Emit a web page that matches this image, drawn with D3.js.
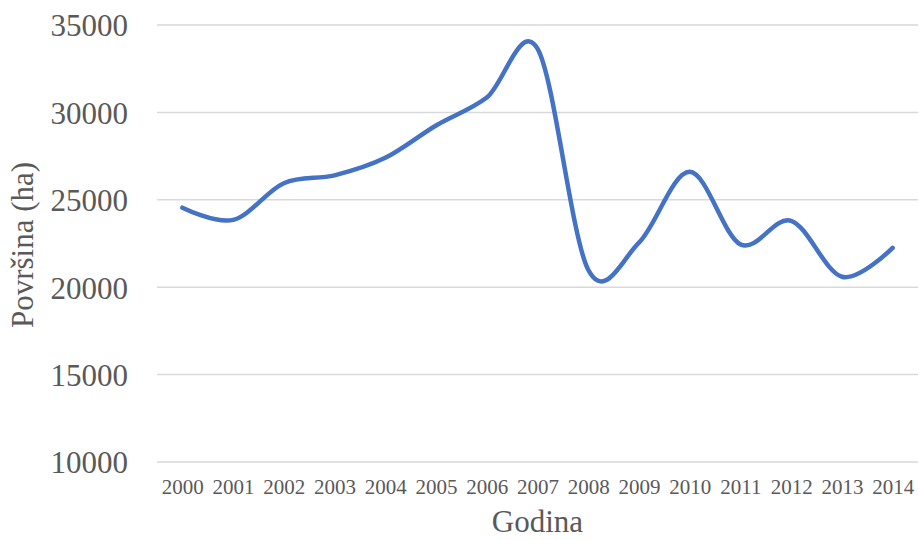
<!DOCTYPE html>
<html>
<head>
<meta charset="utf-8">
<script src="https://cdn.jsdelivr.net/npm/d3@7"></script>
<style>
  body { margin: 0; background: #fff; }
  text { font-family: "Liberation Serif", "Times New Roman", serif; fill: #595959; }
</style>
</head>
<body>
<div id="chart-area"></div>
<script>
// data
var years = ["2000", "2001", "2002", "2003", "2004", "2005", "2006", "2007",
             "2008", "2009", "2010", "2011", "2012", "2013", "2014"];
var povrsina = [24550, 23850, 25950, 26400, 27400, 29250, 30850, 33650,
                21000, 22550, 26600, 22450, 23800, 20600, 22250];
var yTicks = [10000, 15000, 20000, 25000, 30000, 35000];

// size
var width = 919, height = 540;
var margin = {left: 157, right: 1, top: 25, bottom: 78};

var svg = d3.select("#chart-area")
    .append("svg")
    .attr("width", width)
    .attr("height", height);

// scales
var x = d3.scalePoint()
    .domain(years)
    .range([margin.left, width - margin.right])
    .padding(0.5);

var y = d3.scaleLinear()
    .domain([10000, 35000])
    .range([height - margin.bottom, margin.top]);

// gridlines
svg.append("g")
    .attr("class", "grid")
    .selectAll("line")
    .data(yTicks)
    .enter()
    .append("line")
    .attr("x1", margin.left)
    .attr("x2", width - margin.right)
    .attr("y1", function(d){ return y(d); })
    .attr("y2", function(d){ return y(d); })
    .attr("stroke", "#d9d9d9")
    .attr("stroke-width", 1.5);

// y axis labels
var leftAxis = d3.axisLeft(y)
    .tickValues(yTicks)
    .tickSize(0)
    .tickPadding(0)
    .tickFormat(d3.format("d"));

svg.append("g")
    .attr("class", "y-axis")
    .attr("transform", "translate(128,0)")
    .call(leftAxis)
    .call(function(g){ g.select(".domain").remove(); })
    .selectAll("text")
    .attr("font-size", "31px")
    .attr("font-family", null)
    .attr("dy", "0.35em");

// x axis labels
var bottomAxis = d3.axisBottom(x)
    .tickSize(0)
    .tickPadding(0);

svg.append("g")
    .attr("class", "x-axis")
    .attr("transform", "translate(0,479)")
    .call(bottomAxis)
    .call(function(g){ g.select(".domain").remove(); })
    .selectAll("text")
    .attr("font-size", "21px")
    .attr("font-family", null)
    .attr("dy", "0.71em");

// axis titles
svg.append("text")
    .attr("x", x("2007"))
    .attr("y", 532)
    .attr("font-size", "31px")
    .attr("text-anchor", "middle")
    .text("Godina");

svg.append("text")
    .attr("transform", "translate(33,245) rotate(-90)")
    .attr("font-size", "31px")
    .attr("text-anchor", "middle")
    .text("Površina (ha)");

// line
var line = d3.line()
    .x(function(d, i){ return x(years[i]); })
    .y(function(d){ return y(d); })
    .curve(d3.curveCardinal.tension(0));

svg.append("path")
    .datum(povrsina)
    .attr("fill", "none")
    .attr("stroke", "#4472c4")
    .attr("stroke-width", 4.5)
    .attr("stroke-linecap", "round")
    .attr("stroke-linejoin", "round")
    .attr("d", line);
</script>
</body>
</html>
